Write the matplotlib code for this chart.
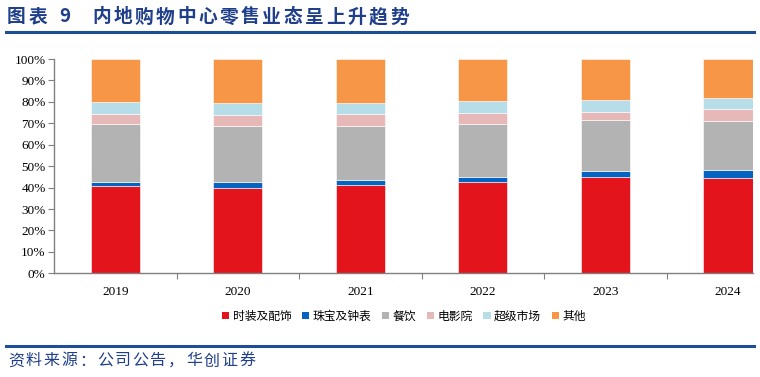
import matplotlib
matplotlib.use("Agg")
import matplotlib.pyplot as plt
import numpy as np
from matplotlib.lines import Line2D
from matplotlib.patches import Patch

plt.rcParams['font.family'] = ['Noto Sans CJK SC', 'DejaVu Sans']

years = ["2019", "2020", "2021", "2022", "2023", "2024"]
series_names = ["时装及配饰", "珠宝及钟表", "餐饮", "电影院", "超级市场", "其他"]
fashion = [40.7, 40.0, 41.1, 42.5, 44.8, 44.5]
jewelry = [2.0, 2.6, 2.6, 2.6, 3.1, 3.8]
dining = [27.1, 26.3, 25.2, 24.7, 23.8, 22.9]
cinema = [4.7, 5.1, 5.6, 5.1, 3.7, 5.6]
supermarket = [5.6, 5.6, 4.8, 5.5, 5.3, 5.1]
other = [19.9, 20.4, 20.7, 19.6, 19.3, 18.1]
colors = ["#E3141C", "#0563C1", "#B3B3B3", "#E6B8B8", "#B7DEE8", "#F79646"]

title_label = "图表"
title_num = "9"
title_text = "内地购物中心零售业态呈上升趋势"
source_text = "资料来源：公司公告，华创证券"

data = [fashion, jewelry, dining, cinema, supermarket, other]

W, H = 760, 377
fig = plt.figure(figsize=(W / 100, H / 100), dpi=100)


def spaced_text(s, x0, y, pitch, **kw):
    for i, ch in enumerate(s):
        fig.text((x0 + i * pitch) / W, 1 - y / H, ch, va='center', ha='left', **kw)


tkw = dict(fontsize=13.5, fontweight='bold', color="#1F3F8A")
spaced_text(title_label, 7, 17, 21.5, **tkw)
fig.text(59 / W, 1 - 17 / H, title_num, va='center', ha='left', **tkw)
spaced_text(title_text, 92, 17, 21.3, **tkw)

fig.add_artist(Line2D([6 / W, 754 / W], [1 - 32 / H, 1 - 32 / H], color="#1F4E96", lw=2.2))
fig.add_artist(Line2D([6 / W, 754 / W], [1 - 346 / H, 1 - 346 / H], color="#1F4E96", lw=2.2))
spaced_text(source_text, 8, 361, 17.8, fontsize=11.5, color="#1F3F8A")

left, right = 54, 753
bottom, top = 273.3, 59
ax = fig.add_axes([left / W, 1 - bottom / H, (right - left) / W, (bottom - top) / H])

x = np.arange(len(years))
base = np.zeros(len(years))
for vals, c, name in zip(data, colors, series_names):
    ax.bar(x, vals, bottom=base, width=0.4, color=c, edgecolor='white', linewidth=0.4, label=name)
    base += np.array(vals)

ax.set_ylim(0, 100)
ax.set_xlim(-0.5, 5.204)
ax.set_yticks(np.arange(0, 101, 10))
ax.set_yticklabels([f"{v}%" for v in range(0, 101, 10)], family=['Liberation Serif'], fontsize=9.5)
ax.set_xticks(x)
ax.set_xticklabels(years, family=['Liberation Serif'], fontsize=9.5)
ax.tick_params(axis='x', length=0, pad=9)
ax.set_xticks(np.arange(0.5, 5, 1), minor=True)
ax.tick_params(axis='x', which='minor', length=4, color='#808080', width=0.8)
ax.tick_params(axis='y', length=4, color='#808080', width=0.8, pad=2)
for s in ['top', 'right']:
    ax.spines[s].set_visible(False)
for s in ['left', 'bottom']:
    ax.spines[s].set_color('#808080')
    ax.spines[s].set_linewidth(1.0)

handles = [Patch(facecolor=c, edgecolor='none') for c in colors]
fig.legend(handles, series_names, loc='center', bbox_to_anchor=(404 / W, 1 - 316 / H),
           ncol=6, frameon=False, fontsize=8.5, handlelength=0.6, handleheight=0.6,
           handletextpad=0.3, columnspacing=0.9)

fig.savefig("out.png", dpi=100)
